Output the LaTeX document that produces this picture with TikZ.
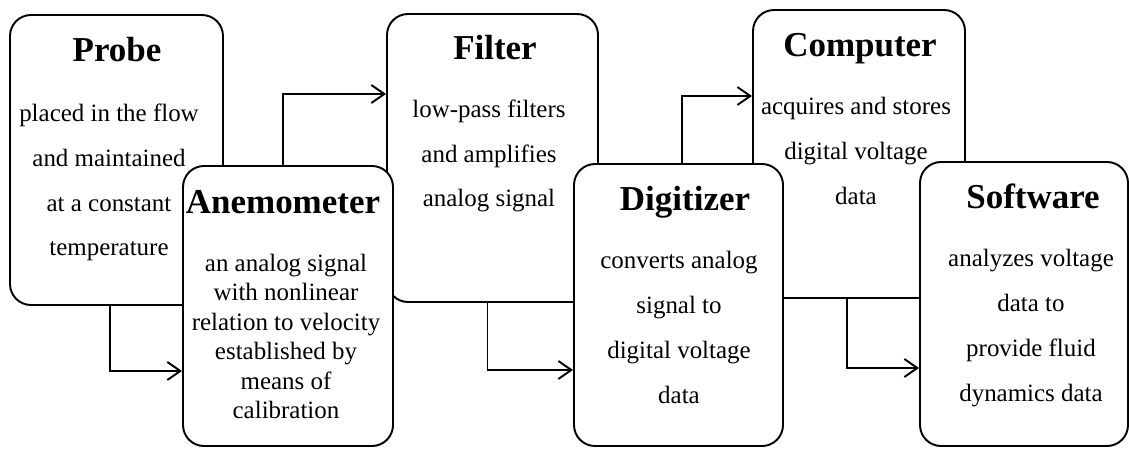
\documentclass[tikz,border=0pt]{standalone}
\usepackage{fontspec}
\setmainfont{Liberation Serif}
\usetikzlibrary{arrows.meta}

\begin{document}
\begin{tikzpicture}[
    box/.style={draw, fill=white, line width=1.1pt, rounded corners=0.42cm, inner sep=0pt},
    title/.style={anchor=base, inner sep=0pt, font=\fontsize{19.9}{24}\selectfont\bfseries},
    body/.style={align=center, inner sep=0pt, font=\fontsize{14.2}{25.5}\selectfont},
    flow/.style={line width=1.1pt, -{Straight Barb[length=2.6mm,width=3.6mm]}}
]
    \useasboundingbox (0,0) rectangle (22.58,-8.98);

    \node[box, minimum width=4.26cm, minimum height=5.8cm] (probe) at (2.33,-3.2) {};
    \node[title] (probeT) at (2.34,-1.24) {Probe};
    \node[body] (probeB) at (2.18,-3.65) {placed in the flow\\and maintained\\at a constant\\temperature};

    \node[box, minimum width=4.22cm, minimum height=5.76cm] (filter) at (9.85,-3.16) {};
    \node[title] (filterT) at (9.9,-1.2) {Filter};
    \node[body] (filterB) at (9.78,-3.12) {low-pass filters\\and amplifies\\analog signal};

    \node[box, minimum width=4.24cm, minimum height=5.76cm] (computer) at (17.18,-3.08) {};
    \node[title] (computerT) at (17.2,-1.14) {Computer};
    \node[body] (computerB) at (17.12,-3.02) {acquires and stores\\digital voltage\\data};

    \node[box, minimum width=4.2cm, minimum height=5.6cm] (anemometer) at (5.76,-6.12) {};
    \node[title] (anemometerT) at (5.66,-4.26) {Anemometer};
    \node[body, font=\fontsize{14.2}{16.8}\selectfont] (anemometerB) at (5.72,-6.73)
        {an analog signal\\with nonlinear\\relation to velocity\\established by\\means of\\calibration};

    \node[box, minimum width=4.18cm, minimum height=5.64cm] (digitizer) at (13.57,-6.1) {};
    \node[title] (digitizerT) at (13.7,-4.2) {Digitizer};
    \node[body] (digitizerB) at (13.58,-6.55) {converts analog\\signal to\\digital voltage\\data};

    \node[box, minimum width=4.16cm, minimum height=5.68cm] (software) at (20.48,-6.08) {};
    \node[title] (softwareT) at (20.66,-4.16) {Software};
    \node[body] (softwareB) at (20.62,-6.56) {analyzes voltage\\data to\\provide fluid\\dynamics data};

    \draw[flow] ([xshift=-1.3mm]probe.south) |- ([yshift=-13mm]anemometer.west);
    \draw[flow] ([xshift=-1mm]anemometer.north) |- ([yshift=12.8mm]filter.west);
    \draw[flow] ([xshift=-1mm]filter.south) |- ([yshift=-13mm]digitizer.west);
    \draw[flow] ([xshift=0.7mm]digitizer.north) |- ([yshift=11.6mm]computer.west);
    \draw[flow] ([xshift=-2.4mm]computer.south) |- ([yshift=-12.8mm]software.west);
\end{tikzpicture}
\end{document}
